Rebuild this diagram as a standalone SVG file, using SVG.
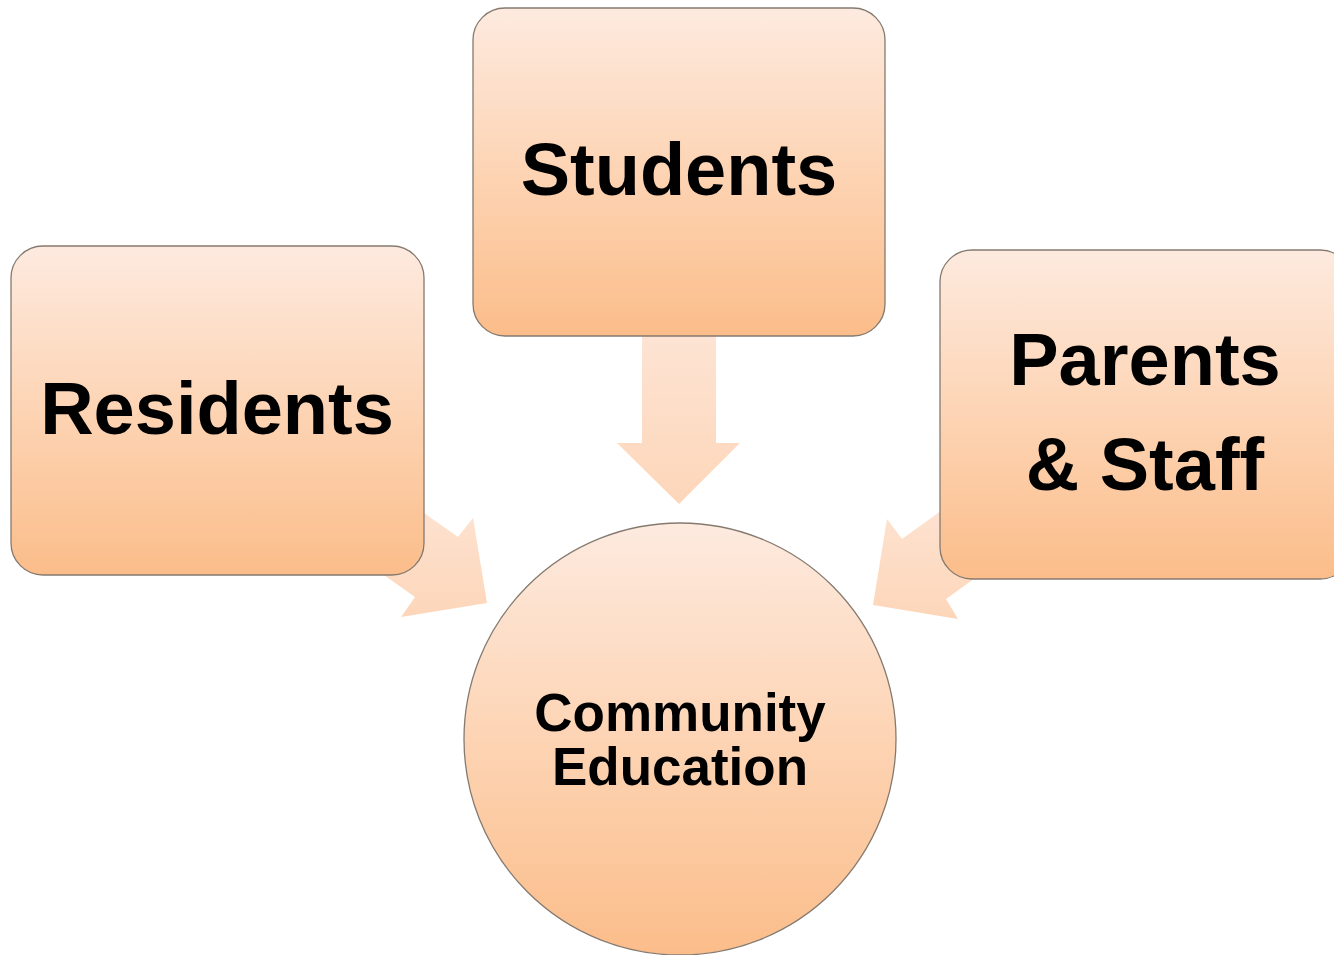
<svg xmlns="http://www.w3.org/2000/svg" width="1334" height="955" viewBox="0 0 1334 955">
<defs>
<linearGradient id="boxg" x1="0" y1="0" x2="0" y2="1">
<stop offset="0" stop-color="#fdeadf"/>
<stop offset="0.5" stop-color="#fdd4b4"/>
<stop offset="1" stop-color="#fbbd8a"/>
</linearGradient>
<linearGradient id="arrg" x1="0" y1="0" x2="0" y2="1">
<stop offset="0" stop-color="#fde4d4"/>
<stop offset="1" stop-color="#fdd6b9"/>
</linearGradient>
<style>
.box{fill:url(#boxg);stroke:#857a70;stroke-width:1.3}
.arr{fill:url(#arrg);stroke:none}
.big{font-family:"Liberation Sans",Arial,sans-serif;font-weight:bold;font-size:74px;fill:#000;text-anchor:middle}
.mid{font-family:"Liberation Sans",Arial,sans-serif;font-weight:bold;font-size:53px;fill:#000;text-anchor:middle}
</style>
</defs>
<rect width="1334" height="955" fill="#fff"/>
<g id="connectors">
<polygon class="arr" points="642,330 716,330 716,443 740,443 679,504 617,443 642,443"/>
<polygon class="arr" points="393,491 458,537 473,518 487,603 401,617 415,597 350,551"/>
<polygon class="arr" points="967,492 902,539 887,519 873,605 958,619 946,599 1011,552"/>
</g>
<g id="students">
<rect class="box" x="473" y="8" width="412" height="328" rx="32"/>
<text class="big" x="679" y="195">Students</text>
</g>
<g id="residents">
<rect class="box" x="11" y="246" width="413" height="329" rx="32"/>
<text class="big" x="217" y="434">Residents</text>
</g>
<g id="parents">
<rect class="box" x="940" y="250" width="412" height="329" rx="32"/>
<text class="big" x="1145" y="385">Parents</text>
<text class="big" x="1145" y="490">&amp; Staff</text>
</g>
<g id="community">
<circle class="box" cx="680" cy="739" r="216"/>
<text class="mid" x="680" y="731">Community</text>
<text class="mid" x="680" y="785">Education</text>
</g>
</svg>
